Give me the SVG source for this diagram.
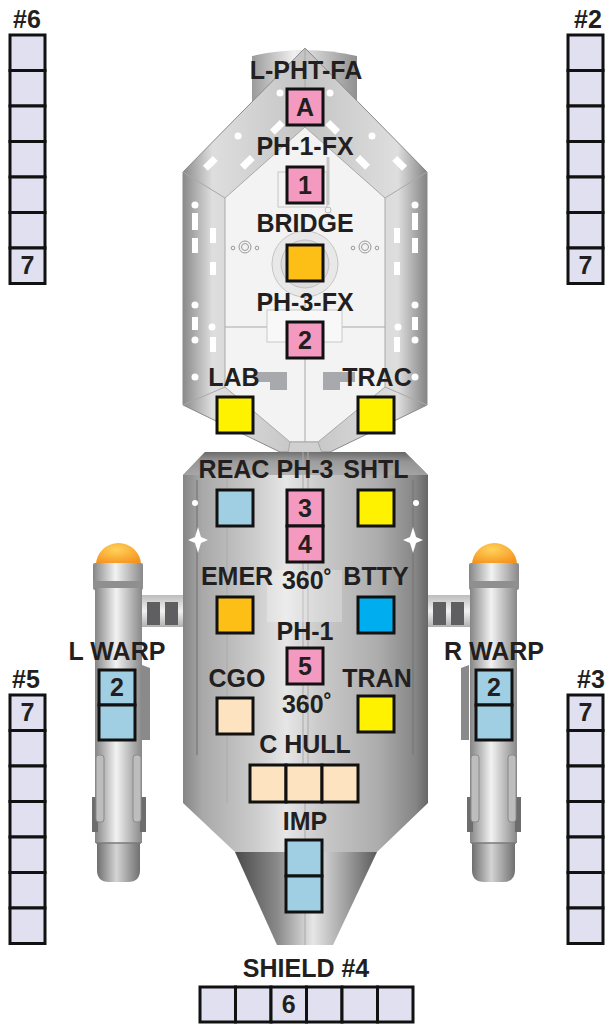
<svg xmlns="http://www.w3.org/2000/svg" width="605" height="1024" viewBox="0 0 605 1024">
<defs>
<style>
.lbl{font-family:"Liberation Sans",Arial,sans-serif;font-weight:bold;font-size:25px;fill:#231f20;text-anchor:middle}
.box{stroke:#111;stroke-width:3}
.pink{fill:#f49ac1}.org{fill:#fdbe16}.yel{fill:#fff200}.lb{fill:#a0cfe4}.blu{fill:#00aeef}.pch{fill:#fde3c0}.shd{fill:#e0e0f0}
.win{fill:#fff}
.pl{fill:none;stroke:#a9a9a9;stroke-width:1}
</style>
<linearGradient id="gFwd" x1="183" y1="0" x2="427" y2="0" gradientUnits="userSpaceOnUse">
<stop offset="0" stop-color="#8a8a8a"/><stop offset="0.12" stop-color="#dedede"/><stop offset="0.5" stop-color="#c4c4c4"/><stop offset="0.88" stop-color="#dedede"/><stop offset="1" stop-color="#848484"/>
</linearGradient>
<linearGradient id="gBody" x1="183" y1="0" x2="428" y2="0" gradientUnits="userSpaceOnUse">
<stop offset="0" stop-color="#858585"/><stop offset="0.08" stop-color="#a9a9a9"/><stop offset="0.3" stop-color="#cdcdcd"/><stop offset="0.42" stop-color="#e6e6e6"/><stop offset="0.55" stop-color="#cbcbcb"/><stop offset="0.8" stop-color="#acacac"/><stop offset="0.95" stop-color="#858585"/><stop offset="1" stop-color="#666"/>
</linearGradient>
<linearGradient id="gTop" x1="0" y1="452" x2="0" y2="476" gradientUnits="userSpaceOnUse">
<stop offset="0" stop-color="#5e5e5e"/><stop offset="0.4" stop-color="#959595"/><stop offset="1" stop-color="#aaaaaa"/>
</linearGradient>
<linearGradient id="gCone" x1="235" y1="0" x2="377" y2="0" gradientUnits="userSpaceOnUse">
<stop offset="0" stop-color="#4a4a4a"/><stop offset="0.3" stop-color="#8a8a8a"/><stop offset="0.55" stop-color="#e6e6e6"/><stop offset="0.8" stop-color="#9a9a9a"/><stop offset="1" stop-color="#5a5a5a"/>
</linearGradient>
<linearGradient id="gNac" x1="0" y1="0" x2="1" y2="0">
<stop offset="0" stop-color="#858585"/><stop offset="0.45" stop-color="#f2f2f2"/><stop offset="1" stop-color="#888"/>
</linearGradient>
<linearGradient id="gNacD" x1="0" y1="0" x2="1" y2="0">
<stop offset="0" stop-color="#6e6e6e"/><stop offset="0.45" stop-color="#d4d4d4"/><stop offset="1" stop-color="#707070"/>
</linearGradient>
<linearGradient id="gPyl" x1="0" y1="0" x2="0" y2="1">
<stop offset="0" stop-color="#bdbdbd"/><stop offset="0.5" stop-color="#f2f2f2"/><stop offset="1" stop-color="#b0b0b0"/>
</linearGradient>
<radialGradient id="gDome" cx="0.45" cy="0.3" r="0.7">
<stop offset="0" stop-color="#ffd35a"/><stop offset="1" stop-color="#f5931e"/>
</radialGradient>
<linearGradient id="gTower" x1="0" y1="0" x2="1" y2="0">
<stop offset="0" stop-color="#9a9a9a"/><stop offset="0.4" stop-color="#f0f0f0"/><stop offset="1" stop-color="#909090"/>
</linearGradient>
</defs>

<g id="ship">
<path d="M252,110 L252,56 Q305,44 357,56 L357,110 Z" fill="url(#gTower)"/>
<path d="M305,48 L427,172 L427,405 L330,452 L280,452 L183,405 L183,172 Z" fill="url(#gFwd)" stroke="#8a8a8a" stroke-width="1"/>
<path d="M305,127 L385,198 L385,387 L318,442 L290,442 L225,387 L225,198 Z" fill="#f3f3f3" stroke="#a9a9a9" stroke-width="1"/>
<path class="pl" d="M183,172 L225,198 M427,172 L385,198 M183,405 L225,387 M427,405 L385,387 M305,48 L305,127 M305,281 L305,310 M305,358 L305,442 M225,327 L267,327 M342,327 L385,327"/>
<path d="M290,442 L318,442 L322,453 L288,453 Z" fill="#d0d0d0" stroke="#a9a9a9" stroke-width="1"/>
<rect x="267" y="310" width="75" height="32" fill="#f8f8f8" stroke="#c8c8c8" stroke-width="1"/>
<rect x="278" y="172" width="49" height="35" fill="none" stroke="#c8c8c8" stroke-width="1"/>
<path d="M328,157 L328,205" stroke="#c8c8c8" stroke-width="3" fill="none"/>
<circle cx="328" cy="210" r="3" fill="none" stroke="#bbb" stroke-width="1"/>
<circle cx="305" cy="264" r="33" fill="#e8e8e8" stroke="#c4c4c4" stroke-width="1"/>
<circle cx="305" cy="264" r="24" fill="#dcdcdc" stroke="#c0c0c0" stroke-width="1"/>
<g fill="none" stroke="#999" stroke-width="1">
<circle cx="245" cy="247" r="6"/><circle cx="245" cy="247" r="3.5"/>
<circle cx="365" cy="247" r="6"/><circle cx="365" cy="247" r="3.5"/>
<circle cx="233" cy="248" r="1.8"/><circle cx="257" cy="248" r="1.8"/>
<circle cx="353" cy="248" r="1.8"/><circle cx="377" cy="248" r="1.8"/>
</g>
<path d="M255,372 L287,372 L287,390 L270,390 L270,382 L255,382 Z" fill="#a7a9ac"/>
<path d="M355,372 L323,372 L323,390 L340,390 L340,382 L355,382 Z" fill="#a7a9ac"/>
<g class="win">
<circle cx="280" cy="93" r="3.5"/><circle cx="330" cy="93" r="3.5"/>
<circle cx="238" cy="136" r="3.5"/><circle cx="372" cy="136" r="3.5"/>
<rect x="270" y="124" width="14" height="7" transform="rotate(-45 277 127)"/>
<rect x="326" y="124" width="14" height="7" transform="rotate(45 333 127)"/>
<rect x="240" y="159" width="14" height="7" transform="rotate(-45 247 162)"/>
<rect x="356" y="159" width="14" height="7" transform="rotate(45 363 162)"/>
<rect x="203" y="160" width="14" height="7" transform="rotate(-45 210 163)"/>
<rect x="393" y="160" width="14" height="7" transform="rotate(45 400 163)"/>
<circle cx="195" cy="205" r="3.5"/><circle cx="415" cy="205" r="3.5"/>
<rect x="192" y="213" width="6" height="17"/><rect x="412" y="213" width="6" height="17"/>
<rect x="210" y="228" width="6" height="15"/><rect x="394" y="228" width="6" height="15"/>
<rect x="192" y="238" width="6" height="15"/><rect x="412" y="238" width="6" height="15"/>
<rect x="210" y="262" width="6" height="13"/><rect x="394" y="262" width="6" height="13"/>
<circle cx="195" cy="305" r="3.5"/><circle cx="415" cy="305" r="3.5"/>
<rect x="192" y="317" width="6" height="13"/><rect x="412" y="317" width="6" height="13"/>
<circle cx="212" cy="327" r="3.5"/><circle cx="398" cy="327" r="3.5"/>
<circle cx="195" cy="340" r="3.5"/><circle cx="415" cy="340" r="3.5"/>
<rect x="210" y="337" width="6" height="15"/><rect x="394" y="337" width="6" height="15"/>
<circle cx="195" cy="377" r="3.5"/><circle cx="415" cy="377" r="3.5"/>
</g>

<g id="nacelle-left">
<rect x="141" y="595" width="43" height="32" fill="url(#gPyl)"/>
<rect x="147" y="602" width="13" height="23" fill="#5f5f61"/>
<rect x="165" y="602" width="13" height="23" fill="#5f5f61"/>
<path d="M142,665 L150,668 L150,740 L142,740 Z" fill="#8a8a8a"/>
<path d="M96,565 A22.5,22 0 0 1 141,565 Z" fill="url(#gDome)"/>
<rect x="93" y="563" width="50" height="27" rx="2" fill="url(#gNac)"/>
<rect x="93" y="581" width="50" height="7" fill="#8f8f8f"/>
<rect x="95" y="588" width="47" height="255" fill="url(#gNac)"/>
<path d="M97,843 L140,843 L140,870 Q140,882 128,882 L109,882 Q97,882 97,870 Z" fill="url(#gNacD)"/>
<line x1="96" y1="843" x2="141" y2="843" stroke="#7a7a7a" stroke-width="1.5"/>
<rect x="92" y="797" width="6" height="35" fill="#6d6d6d"/>
<rect x="140" y="797" width="6" height="35" fill="#6d6d6d"/>
<rect x="96" y="755" width="8" height="67" rx="3" fill="#bdbdbd" stroke="#8a8a8a"/>
<rect x="133" y="755" width="8" height="67" rx="3" fill="#bdbdbd" stroke="#8a8a8a"/>
</g>
<g id="nacelle-right">
<rect x="427" y="595" width="43" height="32" fill="url(#gPyl)"/>
<rect x="433" y="602" width="13" height="23" fill="#5f5f61"/>
<rect x="451" y="602" width="13" height="23" fill="#5f5f61"/>
<path d="M469,665 L461,668 L461,740 L469,740 Z" fill="#8a8a8a"/>
<path d="M472,565 A22.5,22 0 0 1 517,565 Z" fill="url(#gDome)"/>
<rect x="469" y="563" width="50" height="27" rx="2" fill="url(#gNac)"/>
<rect x="469" y="581" width="50" height="7" fill="#8f8f8f"/>
<rect x="470" y="588" width="47" height="255" fill="url(#gNac)"/>
<path d="M472,843 L515,843 L515,870 Q515,882 503,882 L484,882 Q472,882 472,870 Z" fill="url(#gNacD)"/>
<line x1="471" y1="843" x2="516" y2="843" stroke="#7a7a7a" stroke-width="1.5"/>
<rect x="467" y="797" width="6" height="35" fill="#6d6d6d"/>
<rect x="515" y="797" width="6" height="35" fill="#6d6d6d"/>
<rect x="471" y="755" width="8" height="67" rx="3" fill="#bdbdbd" stroke="#8a8a8a"/>
<rect x="508" y="755" width="8" height="67" rx="3" fill="#bdbdbd" stroke="#8a8a8a"/>
</g>

<path d="M205,452 L405,452 L428,475 L428,803 L183,803 L183,475 Z" fill="url(#gBody)"/>
<path d="M205,452 L405,452 L428,475 L183,475 Z" fill="url(#gTop)" opacity="0.85"/>
<path d="M183,803 L428,803 L377,852 L235,852 Z" fill="url(#gBody)"/>
<path d="M235,852 L377,852 L333,945 L277,945 Z" fill="url(#gCone)"/>
<path class="pl" d="M227,478 L227,803 M383,478 L383,803 M303,452 L303,803 M308,452 L308,803 M305,803 L305,945"/>
<path d="M197,480 L197,755 M413,480 L413,755" stroke="#777" stroke-width="2" fill="none" opacity="0.6"/>
<rect x="267" y="570" width="75" height="52" fill="#ffffff" opacity="0.25"/>
<circle cx="195" cy="503" r="3" class="win"/><circle cx="416" cy="503" r="3" class="win"/>
<path class="win" d="M198,527 L201,537 L208,540 L201,543 L198,553 L195,543 L188,540 L195,537 Z"/>
<path class="win" d="M413,527 L416,537 L423,540 L416,543 L413,553 L410,543 L403,540 L410,537 Z"/>
</g>

<g id="connectors"/>

<g id="n-lphtfa"><text class="lbl" x="306" y="79">L-PHT-FA</text><rect class="box pink" x="287" y="89" width="36" height="36"/><text class="lbl" x="305" y="116">A</text></g>
<g id="n-ph1fx"><text class="lbl" x="305" y="155">PH-1-FX</text><rect class="box pink" x="287" y="167" width="36" height="36"/><text class="lbl" x="305" y="194">1</text></g>
<g id="n-bridge"><text class="lbl" x="305" y="232">BRIDGE</text><rect class="box org" x="287" y="245" width="36" height="36"/></g>
<g id="n-ph3fx"><text class="lbl" x="305" y="311">PH-3-FX</text><rect class="box pink" x="287" y="322" width="36" height="36"/><text class="lbl" x="305" y="349">2</text></g>
<g id="n-lab"><text class="lbl" x="234" y="386">LAB</text><rect class="box yel" x="217" y="397" width="36" height="36"/></g>
<g id="n-trac"><text class="lbl" x="377" y="386">TRAC</text><rect class="box yel" x="358" y="397" width="36" height="36"/></g>
<g id="n-reac"><text class="lbl" x="234" y="478">REAC</text><rect class="box lb" x="217" y="490" width="36" height="36"/></g>
<g id="n-ph3"><text class="lbl" x="305" y="478">PH-3</text><rect class="box pink" x="287" y="490" width="36" height="36"/><text class="lbl" x="305" y="517">3</text><rect class="box pink" x="287" y="526" width="36" height="36"/><text class="lbl" x="305" y="553">4</text><text class="lbl" x="307" y="589">360˚</text></g>
<g id="n-shtl"><text class="lbl" x="376" y="478">SHTL</text><rect class="box yel" x="358" y="490" width="36" height="36"/></g>
<g id="n-emer"><text class="lbl" x="237" y="585">EMER</text><rect class="box org" x="217" y="597" width="36" height="36"/></g>
<g id="n-btty"><text class="lbl" x="376" y="585">BTTY</text><rect class="box blu" x="358" y="597" width="36" height="36"/></g>
<g id="n-ph1"><text class="lbl" x="305" y="640">PH-1</text><rect class="box pink" x="287" y="648" width="36" height="36"/><text class="lbl" x="305" y="675">5</text><text class="lbl" x="307" y="713">360˚</text></g>
<g id="n-cgo"><text class="lbl" x="237" y="687">CGO</text><rect class="box pch" x="217" y="698" width="36" height="36"/></g>
<g id="n-tran"><text class="lbl" x="377" y="687">TRAN</text><rect class="box yel" x="358" y="696" width="36" height="36"/></g>
<g id="n-chull"><text class="lbl" x="305" y="753">C HULL</text><rect class="box pch" x="250" y="765" width="36" height="37"/><rect class="box pch" x="286" y="765" width="36" height="37"/><rect class="box pch" x="322" y="765" width="36" height="37"/></g>
<g id="n-imp"><text class="lbl" x="305" y="830">IMP</text><rect class="box lb" x="286" y="840" width="36" height="36"/><rect class="box lb" x="286" y="876" width="36" height="36"/></g>
<g id="n-lwarp"><text class="lbl" x="117" y="660">L WARP</text><rect class="box lb" x="99" y="670" width="36" height="35"/><text class="lbl" x="117" y="696">2</text><rect class="box lb" x="99" y="705" width="36" height="35"/></g>
<g id="n-rwarp"><text class="lbl" x="494" y="660">R WARP</text><rect class="box lb" x="476" y="670" width="36" height="35"/><text class="lbl" x="494" y="696">2</text><rect class="box lb" x="476" y="705" width="36" height="35"/></g>

<g id="shield-6"><text class="lbl" x="27" y="28">#6</text>
<rect class="box shd" x="10" y="35" width="35" height="35.5"/><rect class="box shd" x="10" y="70.5" width="35" height="35.5"/><rect class="box shd" x="10" y="106" width="35" height="35.5"/><rect class="box shd" x="10" y="141.5" width="35" height="35.5"/><rect class="box shd" x="10" y="177" width="35" height="35.5"/><rect class="box shd" x="10" y="212.5" width="35" height="35.5"/><rect class="box shd" x="10" y="248" width="35" height="35.5"/><text class="lbl" x="27.5" y="274">7</text></g>
<g id="shield-2"><text class="lbl" x="588" y="28">#2</text>
<rect class="box shd" x="568" y="35" width="35" height="35.5"/><rect class="box shd" x="568" y="70.5" width="35" height="35.5"/><rect class="box shd" x="568" y="106" width="35" height="35.5"/><rect class="box shd" x="568" y="141.5" width="35" height="35.5"/><rect class="box shd" x="568" y="177" width="35" height="35.5"/><rect class="box shd" x="568" y="212.5" width="35" height="35.5"/><rect class="box shd" x="568" y="248" width="35" height="35.5"/><text class="lbl" x="585.5" y="274">7</text></g>
<g id="shield-5"><text class="lbl" x="26" y="688">#5</text>
<rect class="box shd" x="10" y="695" width="35" height="35.5"/><rect class="box shd" x="10" y="730.5" width="35" height="35.5"/><rect class="box shd" x="10" y="766" width="35" height="35.5"/><rect class="box shd" x="10" y="801.5" width="35" height="35.5"/><rect class="box shd" x="10" y="837" width="35" height="35.5"/><rect class="box shd" x="10" y="872.5" width="35" height="35.5"/><rect class="box shd" x="10" y="908" width="35" height="35.5"/><text class="lbl" x="27.5" y="721">7</text></g>
<g id="shield-3"><text class="lbl" x="591" y="688">#3</text>
<rect class="box shd" x="568" y="695" width="35" height="35.5"/><rect class="box shd" x="568" y="730.5" width="35" height="35.5"/><rect class="box shd" x="568" y="766" width="35" height="35.5"/><rect class="box shd" x="568" y="801.5" width="35" height="35.5"/><rect class="box shd" x="568" y="837" width="35" height="35.5"/><rect class="box shd" x="568" y="872.5" width="35" height="35.5"/><rect class="box shd" x="568" y="908" width="35" height="35.5"/><text class="lbl" x="585.5" y="721">7</text></g>
<g id="shield-4"><text class="lbl" x="306" y="977">SHIELD #4</text>
<rect class="box shd" x="200" y="987" width="35.5" height="35"/><rect class="box shd" x="235.5" y="987" width="35.5" height="35"/><rect class="box shd" x="271" y="987" width="35.5" height="35"/><rect class="box shd" x="306.5" y="987" width="35.5" height="35"/><rect class="box shd" x="342" y="987" width="35.5" height="35"/><rect class="box shd" x="377.5" y="987" width="35.5" height="35"/><text class="lbl" x="288.75" y="1013">6</text></g>
</svg>
